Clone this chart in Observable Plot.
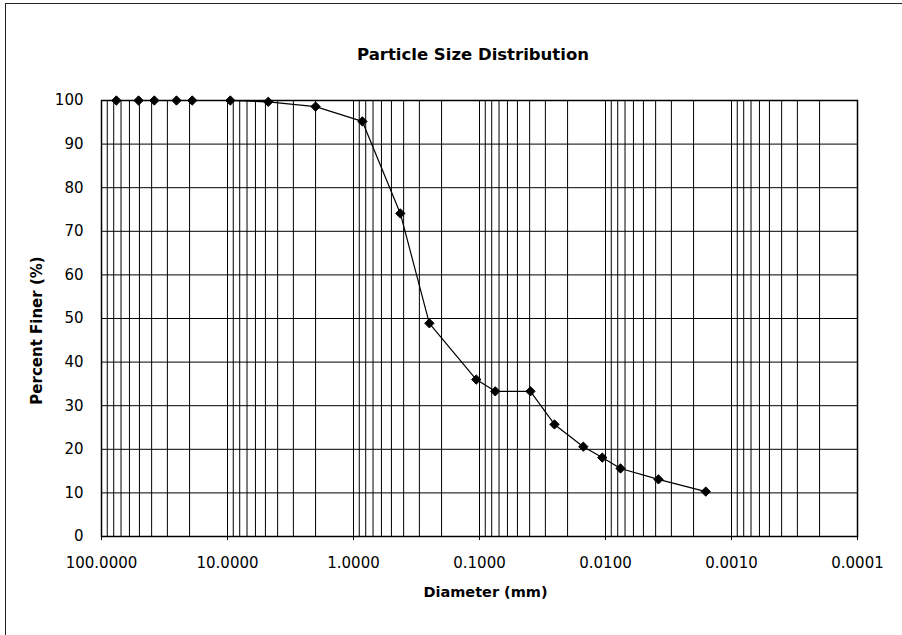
<!DOCTYPE html>
<html><head><meta charset="utf-8">
<script src="https://cdn.jsdelivr.net/npm/d3@7"></script>
<script src="https://cdn.jsdelivr.net/npm/@observablehq/plot@0.6"></script>
<style>
body{margin:0;background:#fff;}
#wrap{position:relative;width:902px;height:635px;overflow:hidden;background:#fff;}
#border{position:absolute;left:5px;top:3px;width:900px;height:640px;border-left:1.5px solid #222;border-top:1.5px solid #222;}
#title{position:absolute;left:0;width:946px;top:45px;text-align:center;font:bold 16.5px "DejaVu Sans";color:#000;}
#chart{position:absolute;left:0;top:75px;}
</style></head><body>
<div id="wrap"><div id="border"></div><div id="title">Particle Size Distribution</div><div id="chart"></div></div>
<script>
// Sieve / hydrometer results (diameter in mm, percent finer)
const diameters = [76.2, 50.8, 38.1, 25.4, 19.05, 9.5, 4.75, 2.0, 0.85, 0.425, 0.25, 0.106, 0.075, 0.0394, 0.0254, 0.0150, 0.0106, 0.0076, 0.0038, 0.0016];
const percentFiner = [100, 100, 100, 100, 100, 100, 99.7, 98.6, 95.2, 74.1, 48.9, 36.0, 33.3, 33.3, 25.7, 20.6, 18.1, 15.6, 13.1, 10.3];
const xTicks = [100, 10, 1, 0.1, 0.01, 0.001, 0.0001];
const yTicks = [0, 10, 20, 30, 40, 50, 60, 70, 80, 90, 100];
const xLabel = "Diameter (mm)";
const yLabel = "Percent Finer (%)";

const data = diameters.map((d, i) => ({d, p: percentFiner[i]}));
const minorGrid = d3.scaleLog().domain([0.0001, 100]).ticks();

const plot = Plot.plot({
  width: 902, height: 560,
  marginTop: 25, marginLeft: 101, marginRight: 45, marginBottom: 99,
  style: {fontFamily: "DejaVu Sans", fontSize: "15px", color: "#000", background: "transparent"},
  x: {type: "log", domain: [100, 0.0001]},
  y: {domain: [0, 100]},
  marks: [
    Plot.gridX(minorGrid, {stroke: "#000", strokeOpacity: 1, strokeWidth: 1}),
    Plot.gridY(yTicks, {stroke: "#000", strokeOpacity: 1, strokeWidth: 1}),
    Plot.frame({stroke: "#000", strokeWidth: 1.5}),
    Plot.axisX(xTicks, {tickFormat: d3.format(".4f"), tickSize: 4, tickPadding: 17, label: null, fontSize: 15}),
    Plot.axisY(yTicks, {tickSize: 0, tickPadding: 18, label: null, fontSize: 15}),
    Plot.line(data, {x: "d", y: "p", stroke: "#000", strokeWidth: 1.2}),
    Plot.dot(data, {x: "d", y: "p", symbol: "diamond2", r: 4.2, fill: "#000", stroke: "#000", strokeWidth: 1}),
    Plot.text([xLabel], {frameAnchor: "bottom", text: d => d, dy: 60, dx: 6, lineAnchor: "bottom", textAnchor: "middle", fontWeight: "bold", fontSize: 14.5, fill: "#000"}),
    Plot.text([yLabel], {frameAnchor: "left", text: d => d, rotate: -90, dx: -64, dy: 12, textAnchor: "middle", lineAnchor: "middle", fontWeight: "bold", fontSize: 15, fill: "#000"})
  ]
});
document.getElementById("chart").appendChild(plot);
</script>
</body></html>
